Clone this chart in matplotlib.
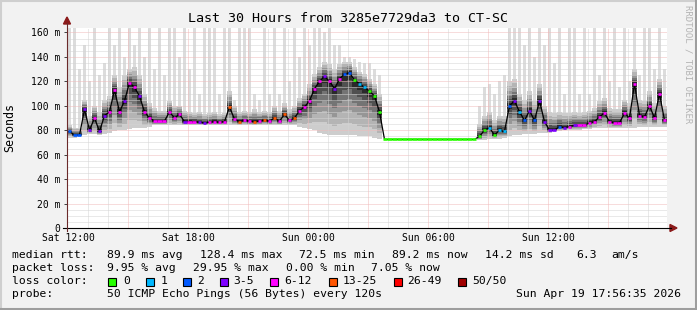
import numpy as np
import matplotlib
matplotlib.use("Agg")
import matplotlib.pyplot as plt
from matplotlib.lines import Line2D
from matplotlib.patches import Polygon, Rectangle
from matplotlib.collections import LineCollection

# ---- data: 15-minute bins, Sat 11:56 -> Sun 17:56 ----
BIN_H = 0.25

median_ms = [
    79, 76, 76, 97, 80, 90, 79, 92, 95, 113,
    95, 104, 119, 115, 108, 95, 90, 87.5, 87.5, 87.5,
    95, 90, 93, 87, 87, 87, 86.5, 86, 86.5, 87,
    86.5, 87, 99, 89, 87, 88, 87.5, 87, 87.5, 88,
    87.5, 90, 87.5, 93, 88, 90, 96, 99, 104, 114,
    120, 124, 120, 114, 122, 126, 127, 121, 118, 115,
    112, 108, 95, 72.5, 72.5, 72.5, 72.5, 72.5, 72.5, 72.5,
    72.5, 72.5, 72.5, 72.5, 72.5, 72.5, 72.5, 72.5, 72.5, 72.5,
    72.5, 72.5, 75, 80, 82, 76, 80, 79, 100, 104,
    95, 88, 96, 88, 104, 87, 80, 80, 83, 82,
    83, 84, 84, 84, 86, 87, 91, 94, 87, 86,
    86, 94, 90, 118, 92, 91, 100, 90, 110, 88,
]

# lost pings out of 50 per bin
loss_pings = [
    2, 2, 2, 4, 4, 8, 4, 4, 8, 8,
    8, 4, 8, 8, 4, 8, 8, 8, 8, 8,
    8, 8, 8, 4, 8, 8, 4, 4, 8, 8,
    8, 8, 18, 8, 18, 8, 8, 18, 8, 18,
    8, 18, 8, 18, 8, 18, 8, 8, 8, 8,
    8, 4, 8, 4, 8, 2, 2, 0, 1, 1,
    0, 0, 0, 0, 0, 0, 0, 0, 0, 0,
    0, 0, 0, 0, 0, 0, 0, 0, 0, 0,
    0, 0, 0, 0, 1, 0, 1, 1, 2, 4,
    1, 2, 4, 2, 4, 4, 4, 4, 2, 4,
    8, 4, 8, 8, 8, 8, 8, 8, 8, 8,
    8, 8, 8, 8, 8, 8, 8, 8, 8, 8,
]

smoke_max = [
    170, 170, 130, 150, 120, 170, 125, 135, 170, 150,
    170, 140, 170, 150, 170, 140, 170, 130, 170, 125,
    170, 170, 140, 170, 130, 170, 110, 170, 170, 170,
    110, 170, 170, 105, 170, 170, 170, 110, 105, 170,
    110, 170, 110, 170, 120, 170, 140, 170, 150, 170,
    170, 160, 165, 150, 150, 140, 140, 138, 136, 135,
    135, 130, 125, 72.5, 72.5, 72.5, 72.5, 72.5, 72.5, 72.5,
    72.5, 72.5, 72.5, 72.5, 72.5, 72.5, 72.5, 72.5, 72.5, 72.5,
    72.5, 72.5, 100, 115, 118, 110, 120, 125, 170, 170,
    170, 150, 170, 140, 170, 150, 170, 135, 170, 110,
    170, 170, 110, 170, 110, 170, 125, 170, 120, 170,
    115, 170, 120, 170, 125, 170, 170, 130, 170, 130,
]

smoke_dense = [
    84, 82, 82, 105, 92, 100, 95, 105, 108, 125,
    115, 125, 130, 132, 125, 110, 102, 98, 96, 96,
    104, 100, 100, 96, 95, 94, 95, 93, 94, 95,
    93, 94, 112, 100, 95, 96, 95, 97, 95, 96,
    95, 100, 96, 102, 97, 100, 106, 110, 118, 126,
    132, 136, 134, 130, 134, 136, 136, 132, 128, 126,
    122, 118, 110, 72.5, 72.5, 72.5, 72.5, 72.5, 72.5, 72.5,
    72.5, 72.5, 72.5, 72.5, 72.5, 72.5, 72.5, 72.5, 72.5, 72.5,
    72.5, 72.5, 85, 92, 95, 88, 92, 92, 120, 122,
    110, 105, 112, 104, 118, 100, 95, 94, 95, 94,
    94, 95, 94, 95, 96, 98, 104, 106, 98, 97,
    97, 105, 102, 130, 105, 104, 112, 102, 122, 100,
]

smoke_min = [
    74, 74, 75, 76, 77, 77, 76, 77, 78, 79,
    80, 80, 81, 82, 82, 82, 83, 84, 84, 84,
    84, 84, 84, 84, 84, 84, 84, 84, 84, 84,
    84, 84, 84, 84, 84, 84, 84, 84, 84, 84,
    84, 84, 84, 84, 84, 84, 83, 82, 81, 80,
    78, 77, 76, 76, 76, 76, 76, 76, 75, 75,
    75, 74, 73, 72.5, 72.5, 72.5, 72.5, 72.5, 72.5, 72.5,
    72.5, 72.5, 72.5, 72.5, 72.5, 72.5, 72.5, 72.5, 72.5, 72.5,
    72.5, 72.5, 72, 72, 73, 73, 73, 74, 75, 76,
    76, 77, 77, 77, 78, 78, 78, 79, 79, 80,
    80, 80, 80, 81, 81, 82, 82, 82, 82, 82,
    82, 82, 82, 82, 83, 83, 83, 83, 83, 83,
]

tick_hours = [0.057, 6.057, 12.057, 18.057, 24.057]
tick_labels = ["Sat 12:00", "Sat 18:00", "Sun 00:00", "Sun 06:00", "Sun 12:00"]
ytick_vals = [0, 20, 40, 60, 80, 100, 120, 140, 160]
ytick_labels = ["0", "20 m", "40 m", "60 m", "80 m", "100 m", "120 m", "140 m", "160 m"]

legend_names = ["0", "1", "2", "3-5", "6-12", "13-25", "26-49", "50/50"]
legend_colors = ["#26ff00", "#00b8ff", "#0059ff", "#7e00ff", "#ff00ff", "#ff5500", "#ff0000", "#a10000"]

MONO = "DejaVu Sans Mono"
W, H = 697, 310


def loss_color(n):
    if n == 0:
        return legend_colors[0]
    if n == 1:
        return legend_colors[1]
    if n == 2:
        return legend_colors[2]
    if n <= 5:
        return legend_colors[3]
    if n <= 12:
        return legend_colors[4]
    if n <= 25:
        return legend_colors[5]
    if n < 50:
        return legend_colors[6]
    return legend_colors[7]


def fx(x):
    return x / W


def fy(y):
    return 1 - y / H


fig = plt.figure(figsize=(W / 100, H / 100), dpi=100)
fig.patch.set_facecolor("#f2f2f2")

top_px = 27.6
ax = fig.add_axes([fx(67), fy(228), fx(667) - fx(67), fy(top_px) - fy(228)])
ax.set_facecolor("white")
ax.set_xlim(0, 30)
ax.set_ylim(0, (228 - top_px) / 1.2222)
for s in ax.spines.values():
    s.set_visible(False)

med = np.array(median_ms, dtype=float)
lo = np.array(smoke_min, dtype=float)
dn = np.array(smoke_dense, dtype=float)
hi = np.array(smoke_max, dtype=float)
n = len(med)
left = np.arange(n) * BIN_H
centers = left + BIN_H / 2

# smoke: thin light streaks for the outliers, then denser core towards the median
ax.bar(centers, hi - lo, bottom=lo, width=BIN_H * 0.75, color="#dcdcdc", lw=0, zorder=1)
ax.bar(left, dn - lo, bottom=lo, width=BIN_H, align="edge", color="#cdcdcd", lw=0, zorder=2)
shades = [(0.8, "#b4b4b4"), (0.6, "#969696"), (0.42, "#747474"), (0.26, "#505050"), (0.12, "#2a2a2a")]
for k, (f, c) in enumerate(shades):
    b = med - f * (med - lo)
    t = med + f * (dn - med)
    ax.bar(left, t - b, bottom=b, width=BIN_H, align="edge", color=c, lw=0, zorder=3 + k)

# dotted grid, drawn over the smoke like rrdtool
dots = (0, (1, 1))
for v in np.arange(5, 165, 5):
    major = v % 20 == 0
    ax.axhline(v, color="#f0baba" if major else "#d4d4d4", lw=0.72, ls=dots, zorder=9)
for h in np.arange(1.057, 30, 1.0):
    major = abs(((h - 0.057) % 3)) < 1e-6
    ax.axvline(h, color="#f0baba" if major else "#d4d4d4", lw=0.72, ls=dots, zorder=9)

# median: black core line then loss-coloured marks
ax.plot(centers, med, color="black", lw=0.9, zorder=10)
segs, cols = [], []
for i in range(n):
    x0 = left[i] + (0 if i > 0 and med[i - 1] == med[i] else 0.25 * BIN_H)
    x1 = left[i] + BIN_H - (0 if i < n - 1 and med[i + 1] == med[i] else 0.25 * BIN_H)
    segs.append([(x0, med[i]), (x1, med[i])])
    cols.append(loss_color(loss_pings[i]))
ax.add_collection(LineCollection(segs, colors=cols, linewidths=1.9, zorder=11, capstyle="butt"))

ax.set_yticks(ytick_vals)
ax.set_yticklabels(ytick_labels, fontfamily=MONO, fontsize=7)
ax.set_xticks(tick_hours)
ax.set_xticklabels(tick_labels, fontfamily=MONO, fontsize=7)
ax.tick_params(axis="y", length=2.5, width=0.7, color="#404040", pad=2.5)
ax.tick_params(axis="x", length=0, pad=3.5)

# axis lines and arrows
fig.add_artist(Line2D([fx(63), fx(671)], [fy(228), fy(228)], color="black", lw=0.8))
fig.add_artist(Line2D([fx(67), fx(67)], [fy(231), fy(23)], color="#6b2a2a", lw=0.8))
fig.add_artist(Polygon([(fx(63.5), fy(24)), (fx(70.5), fy(24)), (fx(67), fy(17))], closed=True,
                       color="#8b1a1a", transform=fig.transFigure))
fig.add_artist(Polygon([(fx(670), fy(224.5)), (fx(670), fy(231.5)), (fx(677), fy(228))], closed=True,
                       color="#8b1a1a", transform=fig.transFigure))

# texts
fig.text(fx(348), fy(19), "Last 30 Hours from 3285e7729da3 to CT-SC", ha="center", va="center",
         fontfamily=MONO, fontsize=9.6)
fig.text(fx(10), fy(127), "Seconds", rotation=90, ha="center", va="center", fontfamily=MONO, fontsize=8.4)
fig.text(fx(688), fy(5), "RRDTOOL / TOBI OETIKER", rotation=270, ha="center", va="top",
         fontfamily=MONO, fontsize=6.5, color="#b4b4b4")

fs = 8.2
rows = [
    (255, [(12, "median rtt:"), (107, "89.9 ms avg"), (200, "128.4 ms max"), (299, "72.5 ms min"),
           (392, "89.2 ms now"), (485, "14.2 ms sd"), (576, "6.3"), (611, "am/s")]),
    (268, [(12, "packet loss:"), (107, "9.95 % avg"), (193, "29.95 % max"), (286, "0.00 % min"),
           (371, "7.05 % now")]),
    (281, [(12, "loss color:")]),
    (294, [(12, "probe:"), (107, "50 ICMP Echo Pings (56 Bytes) every 120s")]),
]
for y, items in rows:
    for x, s in items:
        fig.text(fx(x), fy(y), s, ha="left", va="center", fontfamily=MONO, fontsize=fs)
fig.text(fx(681), fy(294), "Sun Apr 19 17:56:35 2026", ha="right", va="center", fontfamily=MONO, fontsize=fs)

sq_x = [108, 146, 183, 220, 270, 329, 393.5, 458]
lab_x = [123, 161, 197, 233, 284, 343, 407, 472]
for sx, lx, name, c in zip(sq_x, lab_x, legend_names, legend_colors):
    fig.add_artist(Rectangle((fx(sx), fy(285.5)), fx(8), 8 / H, facecolor=c, edgecolor="black",
                             lw=0.8, transform=fig.transFigure))
    fig.text(fx(lx), fy(281), name, ha="left", va="center", fontfamily=MONO, fontsize=fs)

# frame shading
fig.add_artist(Line2D([0, 1], [fy(0.75), fy(0.75)], color="#cfcfcf", lw=1.5))
fig.add_artist(Line2D([fx(0.75), fx(0.75)], [0, 1], color="#cfcfcf", lw=1.5))
fig.add_artist(Line2D([0, 1], [fy(H - 1), fy(H - 1)], color="#9e9e9e", lw=2.2))
fig.add_artist(Line2D([fx(W - 1), fx(W - 1)], [0, 1], color="#9e9e9e", lw=2.2))

fig.savefig("out.png", dpi=100, facecolor=fig.get_facecolor())
